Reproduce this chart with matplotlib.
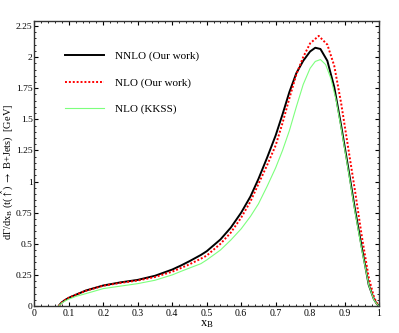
import numpy as np
import matplotlib.pyplot as plt
from matplotlib.ticker import MultipleLocator, FuncFormatter

plt.rcParams['font.family'] = ['Liberation Serif', 'DejaVu Serif']
plt.rcParams['mathtext.fontset'] = 'stix'

# NNLO (Our work)
x_nnlo = [0.071, 0.075, 0.08, 0.09, 0.10, 0.12, 0.15, 0.20, 0.25, 0.30, 0.35, 0.40, 0.425,
          0.45, 0.483, 0.50, 0.54, 0.57, 0.60, 0.627, 0.65, 0.675, 0.70, 0.72, 0.74, 0.76,
          0.78, 0.80, 0.815, 0.83, 0.85, 0.87, 0.89, 0.91, 0.93, 0.95, 0.97, 0.985, 0.993, 1.0]
y_nnlo = [0.0, 0.016, 0.03, 0.05, 0.066, 0.09, 0.125, 0.165, 0.19, 0.21, 0.243, 0.293, 0.325,
          0.36, 0.41, 0.44, 0.535, 0.63, 0.75, 0.88, 1.02, 1.19, 1.37, 1.54, 1.72, 1.87,
          1.97, 2.045, 2.075, 2.065, 1.97, 1.76, 1.45, 1.12, 0.78, 0.47, 0.17, 0.055, 0.02, 0.0]

# NLO (Our work)
x_nlo = [0.071, 0.075, 0.08, 0.09, 0.10, 0.12, 0.15, 0.20, 0.25, 0.30, 0.35, 0.40, 0.425,
         0.45, 0.483, 0.50, 0.54, 0.57, 0.60, 0.627, 0.65, 0.675, 0.70, 0.72, 0.74, 0.76,
         0.78, 0.80, 0.825, 0.85, 0.87, 0.89, 0.91, 0.93, 0.95, 0.97, 0.985, 0.993, 1.0]
y_nlo = [0.0, 0.016, 0.03, 0.05, 0.066, 0.09, 0.123, 0.163, 0.186, 0.205, 0.233, 0.276, 0.305,
         0.335, 0.38, 0.405, 0.50, 0.59, 0.71, 0.84, 0.98, 1.13, 1.29, 1.47, 1.67, 1.86,
         2.0, 2.11, 2.17, 2.10, 1.93, 1.63, 1.28, 0.93, 0.56, 0.23, 0.075, 0.025, 0.0]

# NLO (KKSS)
x_kkss = [0.071, 0.075, 0.08, 0.09, 0.10, 0.12, 0.15, 0.20, 0.25, 0.30, 0.35, 0.40, 0.425,
          0.45, 0.483, 0.50, 0.54, 0.57, 0.60, 0.627, 0.65, 0.675, 0.70, 0.72, 0.74, 0.76,
          0.78, 0.80, 0.815, 0.83, 0.845, 0.86, 0.875, 0.89, 0.91, 0.93, 0.95, 0.97, 0.985,
          0.993, 1.0]
y_kkss = [0.0, 0.013, 0.025, 0.042, 0.055, 0.077, 0.10, 0.14, 0.16, 0.18, 0.207, 0.25, 0.278,
          0.305, 0.34, 0.37, 0.45, 0.53, 0.62, 0.72, 0.82, 0.96, 1.11, 1.25, 1.41, 1.60,
          1.78, 1.91, 1.965, 1.98, 1.94, 1.83, 1.66, 1.43, 1.10, 0.76, 0.45, 0.17, 0.05,
          0.018, 0.0]

fig = plt.figure(figsize=(3.99, 3.33), dpi=100)
ax = fig.add_axes([0.086, 0.081, 0.864, 0.856])

ax.plot(x_nnlo, y_nnlo, color='black', lw=1.4, label='NNLO (Our work)')
ax.plot(x_nlo, y_nlo, color='red', lw=1.4, ls=(0, (1, 1)), label='NLO (Our work)')
ax.plot(x_kkss, y_kkss, color='#7dff7d', lw=0.8, label='NLO (KKSS)')

ax.set_xlim(0, 1)
ax.set_ylim(0, 2.29)
ax.xaxis.set_major_locator(MultipleLocator(0.1))
ax.xaxis.set_minor_locator(MultipleLocator(0.02))
ax.yaxis.set_major_locator(MultipleLocator(0.25))
ax.yaxis.set_minor_locator(MultipleLocator(0.05))
fmt = FuncFormatter(lambda v, p: f'{v:g}')
ax.xaxis.set_major_formatter(fmt)
ax.yaxis.set_major_formatter(fmt)
ax.tick_params(which='both', direction='in', top=True, right=True, labelsize=7, pad=2)
ax.tick_params(axis='y', pad=1.2, labelsize=6.8)
ax.tick_params(which='major', length=3)
ax.tick_params(which='minor', length=1.5)
for s in ax.spines.values():
    s.set_linewidth(1.0)
    s.set_color('#333333')

ax.set_xlabel(r'$\mathregular{x_B}$', fontsize=9, labelpad=0)
ax.set_ylabel(r'$\mathregular{d\Gamma/dx_B}$ (t($\hat{\uparrow}$) $\rightarrow$ B+Jets)  [GeV]',
              fontsize=7.5)
ax.yaxis.set_label_coords(-0.057, 0.47)

ax.legend(loc='upper left', bbox_to_anchor=(0.06, 0.93), frameon=False, fontsize=8,
          handlelength=3.5, handletextpad=1.0, labelspacing=1.5)

fig.savefig('out.png', dpi=100)
